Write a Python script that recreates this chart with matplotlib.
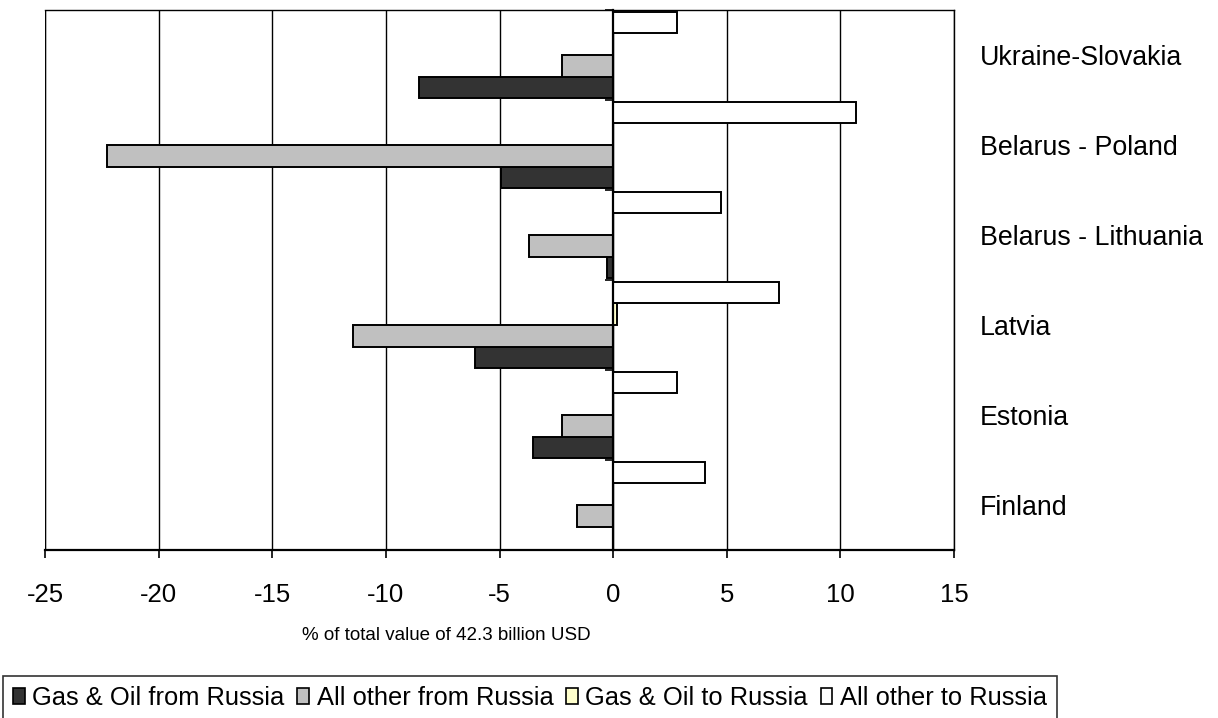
import matplotlib
matplotlib.use("Agg")
import matplotlib.pyplot as plt
from matplotlib.patches import Patch
import numpy as np

plt.rcParams['font.family'] = ['Liberation Sans', 'DejaVu Sans']

# Categories listed bottom to top
categories = ["Finland", "Estonia", "Latvia", "Belarus - Lithuania",
              "Belarus - Poland", "Ukraine-Slovakia"]

series_names = ["Gas & Oil from Russia", "All other from Russia",
                "Gas & Oil to Russia", "All other to Russia"]

gas_oil_from = [0.0, -3.52, -6.09, -0.25, -4.95, -8.56]
other_from = [-1.60, -2.27, -11.44, -3.71, -22.25, -2.27]
gas_oil_to = [0.0, 0.0, 0.16, 0.0, 0.0, 0.0]
other_to = [4.05, 2.81, 7.31, 4.76, 10.7, 2.81]

x_ticks = [-25, -20, -15, -10, -5, 0, 5, 10, 15]
x_title = "% of total value of 42.3 billion USD"

colors = ["#333333", "#C0C0C0", "#FFFFCC", "#FFFFFF"]

W, H = 1218, 718
fig = plt.figure(figsize=(W / 100, H / 100), dpi=100)
ax = fig.add_axes([45 / W, 1 - 550 / H, (954 - 45) / W, 540 / H])

y = np.arange(len(categories))
bar_h = 0.24
offsets = [-1.5 * bar_h, -0.5 * bar_h, 0.5 * bar_h, 1.5 * bar_h]
all_series = [gas_oil_from, other_from, gas_oil_to, other_to]

for vals, off, col in zip(all_series, offsets, colors):
    ax.barh(y + off, vals, height=bar_h, color=col, edgecolor="black",
            linewidth=1.4, zorder=3)

ax.set_xlim(-25, 15)
ax.set_ylim(-0.5, len(categories) - 0.5)
ax.set_xticks(x_ticks)
ax.set_xticklabels([str(t) for t in x_ticks], fontsize=18.5)
ax.tick_params(axis="x", direction="out", length=6, width=1.2, pad=18,
               color="black")
ax.grid(axis="x", color="black", linewidth=1.0, zorder=1)
ax.set_axisbelow(True)

# Category axis sits at x = 0, with tick marks between categories
ax.spines["left"].set_position(("data", 0))
ax.spines["left"].set_linewidth(1.6)
ax.spines["left"].set_zorder(4)
ax.spines["bottom"].set_linewidth(1.6)
ax.spines["top"].set_linewidth(1.0)
ax.spines["right"].set_linewidth(1.0)

ax.set_yticks(y)
ax.set_yticklabels(categories, fontsize=19.3)
ax.set_yticks(np.arange(len(categories) + 1) - 0.5, minor=True)
ax.tick_params(axis="y", which="major", left=False, labelleft=False,
               right=False, labelright=True, pad=15)
ax.tick_params(axis="y", which="minor", left=True, right=False,
               direction="out", length=6, width=1.2)
for lbl in ax.get_yticklabels():
    lbl.set_horizontalalignment("left")
    lbl.set_verticalalignment("center_baseline")

# Left border of the plot area
ax.axvline(-25, color="black", linewidth=1.6, zorder=4)

fig.text(446 / W, 1 - 636 / H, x_title, fontsize=13.5, ha="center",
         va="center")

handles = [Patch(facecolor=c, edgecolor="black", linewidth=1.2)
           for c in colors]
leg = fig.legend(handles, series_names, ncol=4, loc="upper left",
                 bbox_to_anchor=(3 / W, 1 - 676 / H), frameon=True,
                 fancybox=False, edgecolor="black", fontsize=18.4,
                 handlelength=0.45, handleheight=0.55, handletextpad=0.3,
                 columnspacing=0.5, borderpad=0.4, borderaxespad=0)
leg.get_frame().set_linewidth(1.2)

fig.savefig("out.png", dpi=100)
